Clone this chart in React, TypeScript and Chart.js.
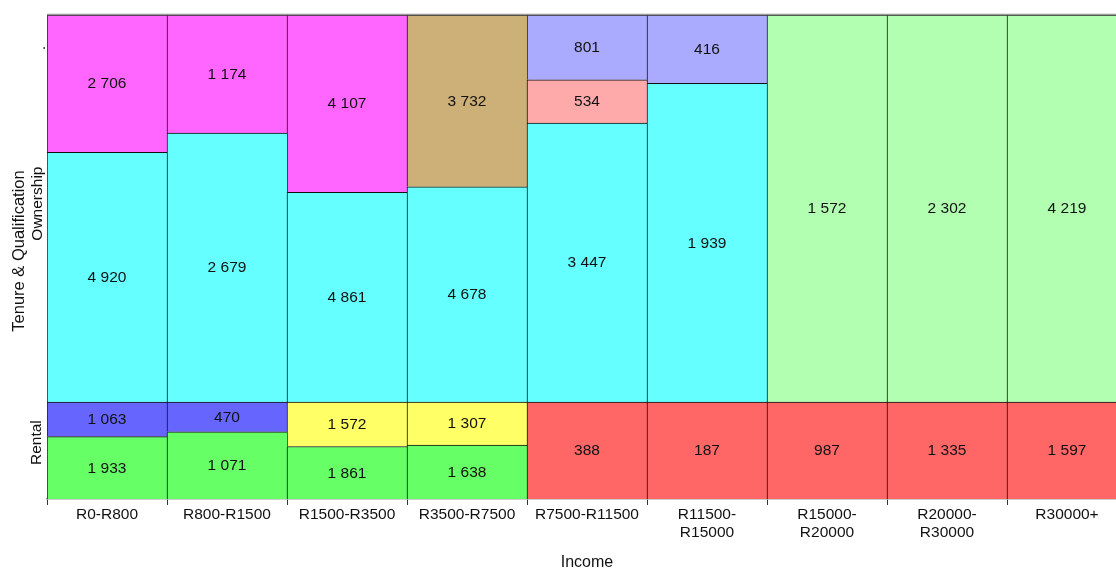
import React, { useEffect, useRef } from "react";
import { Chart, registerables } from "chart.js";

Chart.register(...registerables);

// ---- data ----
const incomeLabels: (string | string[])[] = [
  "R0-R800",
  "R800-R1500",
  "R1500-R3500",
  "R3500-R7500",
  "R7500-R11500",
  ["R11500-", "R15000"],
  ["R15000-", "R20000"],
  ["R20000-", "R30000"],
  "R30000+",
];
const tenureLabels = ["Rental", "Ownership", "."];

// Ownership band, bottom to top
const ownershipBase = [4920, 2679, 4861, 4678, 3447, 1939, 1572, 2302, 4219];
const ownershipMid = [2706, 1174, 4107, 3732, 534, 416, 0, 0, 0];
const ownershipTop = [0, 0, 0, 0, 801, 0, 0, 0, 0];
// Rental band, bottom to top
const rentalBase = [1933, 1071, 1861, 1638, 388, 187, 987, 1335, 1597];
const rentalTop = [1063, 470, 1572, 1307, 0, 0, 0, 0, 0];

// ---- colours ----
const CYAN = "#66FFFF";
const MAGENTA = "#FF66FF";
const TAN = "#CCB077";
const PINK = "#FFAAAA";
const LAVENDER = "#AAAAFF";
const LGREEN = "#B2FFB2";
const BLUE = "#6666FF";
const GREEN = "#66FF66";
const YELLOW = "#FFFF66";
const RED = "#FF6666";

const ownershipBaseColors = [CYAN, CYAN, CYAN, CYAN, CYAN, CYAN, LGREEN, LGREEN, LGREEN];
const ownershipMidColors = [MAGENTA, MAGENTA, MAGENTA, TAN, PINK, LAVENDER, LGREEN, LGREEN, LGREEN];
const ownershipTopColors = [LAVENDER, LAVENDER, LAVENDER, LAVENDER, LAVENDER, LAVENDER, LAVENDER, LAVENDER, LAVENDER];
const rentalBaseColors = [GREEN, GREEN, GREEN, GREEN, RED, RED, RED, RED, RED];
const rentalTopColors = [BLUE, BLUE, YELLOW, YELLOW, RED, RED, RED, RED, RED];

const RENTAL_SHARE = 20; // share of the vertical axis given to the Rental band

function stackRanges(layers: number[][], lo: number, hi: number) {
  const out: (number[] | null)[][] = layers.map(() => []);
  const n = layers[0].length;
  for (let i = 0; i < n; i++) {
    let total = 0;
    layers.forEach((l) => (total += l[i]));
    let cum = lo;
    layers.forEach((l, k) => {
      const v = l[i];
      if (!v) {
        out[k].push(null);
      } else {
        const h = (v / total) * (hi - lo);
        out[k].push([cum, cum + h]);
        cum += h;
      }
    });
  }
  return out;
}

const fmt = (n: number) => String(n).replace(/\B(?=(\d{3})+(?!\d))/g, " ");

const FONT = "'Liberation Sans', Arial, sans-serif";
const W = 1140;
const H = 570;

export default function App() {
  const ref = useRef<HTMLCanvasElement>(null);
  useEffect(() => {
    if (!ref.current) return;
    const [oB, oM, oT] = stackRanges([ownershipBase, ownershipMid, ownershipTop], RENTAL_SHARE, 100);
    const [rB, rT] = stackRanges([rentalBase, rentalTop], 0, RENTAL_SHARE);
    const raw = [rentalBase, rentalTop, ownershipBase, ownershipMid, ownershipTop];
    const mk = (data: any[], colors: string[], label: string) => ({
      label,
      data,
      backgroundColor: colors,
      borderColor: "#111",
      borderWidth: { top: 1, left: 1, right: 0, bottom: 0 },
      borderSkipped: false,
      barPercentage: 1,
      categoryPercentage: 1,
      grouped: false,
    });

    const labelPlugin = {
      id: "mosaicText",
      afterDatasetsDraw(chart: any) {
        const ctx = chart.ctx;
        const area = chart.chartArea;
        ctx.save();
        ctx.font = `15.5px ${FONT}`;
        ctx.fillStyle = "#111";
        ctx.textAlign = "center";
        ctx.textBaseline = "middle";
        chart.data.datasets.forEach((ds: any, di: number) => {
          const meta = chart.getDatasetMeta(di);
          meta.data.forEach((el: any, i: number) => {
            const v = raw[di][i];
            if (!v) return;
            const p = el.getProps(["x", "y", "base"], true);
            ctx.fillText(fmt(v), p.x, (p.y + p.base) / 2 + 0.5);
          });
        });
        // top frame
        ctx.strokeStyle = "#999";
        ctx.lineWidth = 1.5;
        ctx.beginPath();
        ctx.moveTo(area.left, area.top - 0.5);
        ctx.lineTo(area.right, area.top - 0.5);
        ctx.stroke();

        // y category labels (rotated)
        const y = chart.scales.y;
        const rot = (text: string, x: number, yy: number, size: number) => {
          ctx.save();
          ctx.translate(x, yy);
          ctx.rotate(-Math.PI / 2);
          ctx.font = `${size}px ${FONT}`;
          ctx.fillText(text, 0, 0);
          ctx.restore();
        };
        rot(tenureLabels[0], 37, y.getPixelForValue(RENTAL_SHARE / 2) - 8, 15.5);
        rot(tenureLabels[1], 38, y.getPixelForValue((RENTAL_SHARE + 100) / 2) - 5, 15.5);
        rot(tenureLabels[2], 41, 48, 15.5);
        rot("Tenure & Qualification", 19, 251, 16.5);
        ctx.font = `16px ${FONT}`;
        ctx.fillText("Income", (area.left + area.right) / 2, 563);
        ctx.restore();
      },
    };

    const chart = new Chart(ref.current, {
      type: "bar",
      data: {
        labels: incomeLabels as any,
        datasets: [
          mk(rB, rentalBaseColors, "Rental base"),
          mk(rT, rentalTopColors, "Rental top"),
          mk(oB, ownershipBaseColors, "Ownership base"),
          mk(oM, ownershipMidColors, "Ownership mid"),
          mk(oT, ownershipTopColors, "Ownership top"),
        ] as any,
      },
      options: {
        responsive: false,
        animation: false,
        layout: { padding: { left: 47, top: 15, right: W - 1127, bottom: 0 } },
        plugins: { legend: { display: false }, tooltip: { enabled: false } },
        scales: {
          x: {
            type: "category",
            offset: true,
            grid: {
              offset: true,
              drawOnChartArea: false,
              drawTicks: true,
              tickLength: 6,
              color: "#333",
            },
            border: { display: true, color: "#999", width: 1.5 },
            ticks: {
              font: { family: FONT, size: 15.5 },
              color: "#111",
              padding: 0,
              maxRotation: 0,
              minRotation: 0,
              autoSkip: false,
            },
            afterFit: (s: any) => {
              s.height = H - 499;
            },
          },
          y: { display: false, min: 0, max: 100 },
        },
      } as any,
      plugins: [labelPlugin],
    });
    return () => chart.destroy();
  }, []);

  return (
    <div
      style={{
        position: "fixed",
        left: 0,
        top: 0,
        width: 1116,
        height: H,
        overflow: "hidden",
        background: "#fff",
      }}
    >
      <canvas ref={ref} width={W} height={H} style={{ width: W, height: H, display: "block" }} />
    </div>
  );
}
